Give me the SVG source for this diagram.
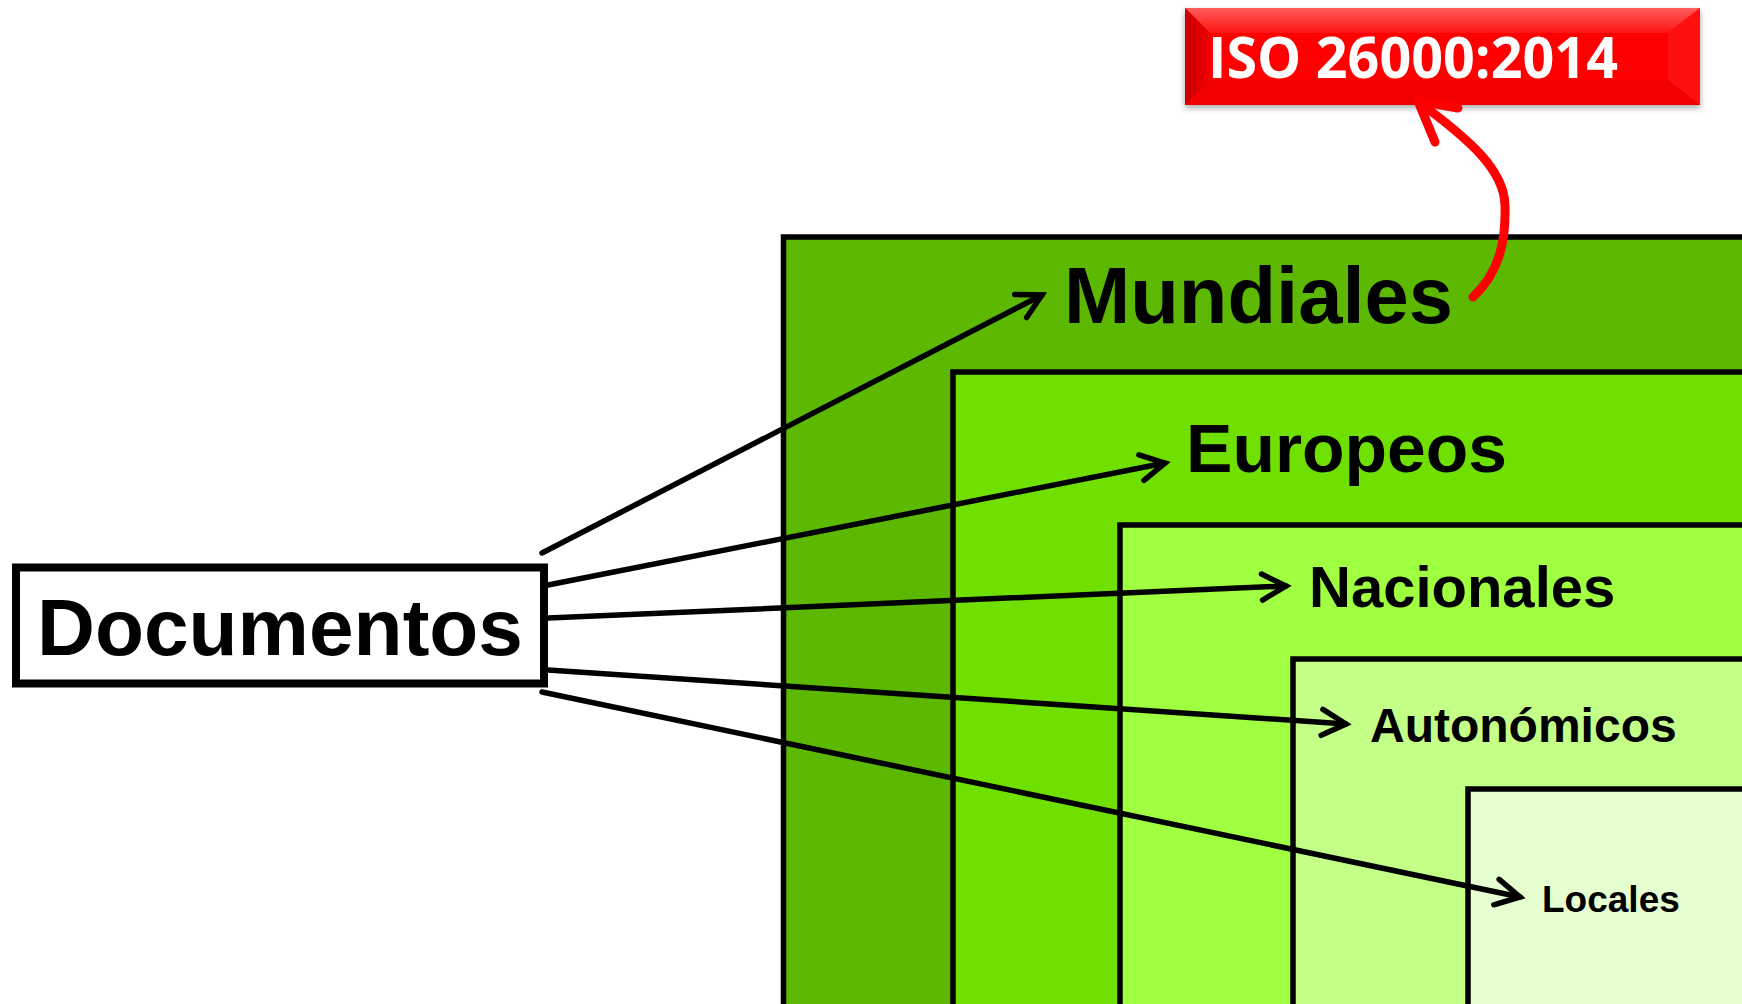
<svg xmlns="http://www.w3.org/2000/svg" width="1742" height="1004" viewBox="0 0 1742 1004">
<defs>
<style>
.lvl{stroke:#000;stroke-width:5.5}
.lbl{font-family:"Liberation Sans",Arial,sans-serif;font-weight:700;fill:#000}
.conn{stroke:#000;stroke-width:5.5;fill:none;stroke-linecap:round}
.red{stroke:#ff0000;stroke-width:9;fill:none;stroke-linecap:round;stroke-linejoin:round}
</style>
<marker id="arr" markerUnits="userSpaceOnUse" markerWidth="40" markerHeight="40" viewBox="-30 -20 40 40" refX="0" refY="0" orient="auto">
<path d="M-24,-13 L0,0 L-24,13" fill="none" stroke="#000" stroke-width="5.5" stroke-linecap="round" stroke-linejoin="miter"/>
</marker>
<linearGradient id="gTop" x1="0" y1="0" x2="0" y2="1">
<stop offset="0" stop-color="#ff5c5c"/>
<stop offset="1" stop-color="#ff1414"/>
</linearGradient>
<linearGradient id="gLeft" x1="0" y1="0" x2="1" y2="0">
<stop offset="0" stop-color="#c80000"/>
<stop offset="1" stop-color="#f00000"/>
</linearGradient>
<filter id="sh" x="-5%" y="-20%" width="110%" height="150%">
<feDropShadow dx="0" dy="3" stdDeviation="3" flood-color="#000" flood-opacity="0.35"/>
</filter>
</defs>
<rect width="1742" height="1004" fill="#fff"/>

<g id="mundiales">
<rect class="lvl" x="783.5" y="237" width="1000" height="800" fill="#5cb800"/>
<text class="lbl" x="1064" y="323" font-size="79" textLength="389" lengthAdjust="spacingAndGlyphs">Mundiales</text>
</g>
<g id="europeos">
<rect class="lvl" x="953" y="372" width="900" height="700" fill="#70e000"/>
<text class="lbl" x="1186" y="472" font-size="68" textLength="321" lengthAdjust="spacingAndGlyphs">Europeos</text>
</g>
<g id="nacionales">
<rect class="lvl" x="1120" y="525" width="800" height="600" fill="#a0ff40"/>
<text class="lbl" x="1309" y="607" font-size="58">Nacionales</text>
</g>
<g id="autonomicos">
<rect class="lvl" x="1293" y="659" width="700" height="500" fill="#c4ff88"/>
<text class="lbl" x="1370" y="742" font-size="48">Autonómicos</text>
</g>
<g id="locales">
<rect class="lvl" x="1468" y="789" width="600" height="400" fill="#e6ffd0"/>
<text class="lbl" x="1542" y="912" font-size="37">Locales</text>
</g>

<g id="documentos">
<rect x="16" y="567.5" width="528" height="116" fill="#fff" stroke="#000" stroke-width="8"/>
<text class="lbl" x="37" y="655" font-size="79" textLength="486" lengthAdjust="spacingAndGlyphs">Documentos</text>
</g>

<g id="iso">
<g filter="url(#sh)">
<rect x="1185" y="8" width="515" height="97" fill="#ff0000"/>
</g>
<polygon points="1185,8 1700,8 1668,33 1210,33" fill="url(#gTop)"/>
<polygon points="1185,8 1210,33 1210,80 1185,105" fill="url(#gLeft)"/>
<polygon points="1700,8 1700,105 1668,80 1668,33" fill="#ff1010"/>
<polygon points="1185,105 1700,105 1668,80 1210,80" fill="#f20000"/>
<rect x="1210" y="33" width="458" height="47" fill="#ff0000"/>
<text x="1208" y="78" font-family="'Open Sans','Noto Sans',sans-serif" font-weight="700" font-size="58" fill="#fff" textLength="410" lengthAdjust="spacingAndGlyphs">ISO 26000:2014</text>
</g>

<g id="connectors">
<line class="conn" x1="542" y1="553" x2="1042" y2="295" marker-end="url(#arr)"/>
<line class="conn" x1="548" y1="585" x2="1165" y2="463" marker-end="url(#arr)"/>
<line class="conn" x1="548" y1="618" x2="1286" y2="586" marker-end="url(#arr)"/>
<line class="conn" x1="548" y1="670" x2="1346" y2="724" marker-end="url(#arr)"/>
<line class="conn" x1="542" y1="692" x2="1520" y2="897" marker-end="url(#arr)"/>
<path class="red" d="M1473,297 C1500,272 1506,240 1505,205 C1504,170 1470,140 1420,103"/>
<path class="red" d="M1435,142 L1418,101 L1458,108"/>
</g>
</svg>
